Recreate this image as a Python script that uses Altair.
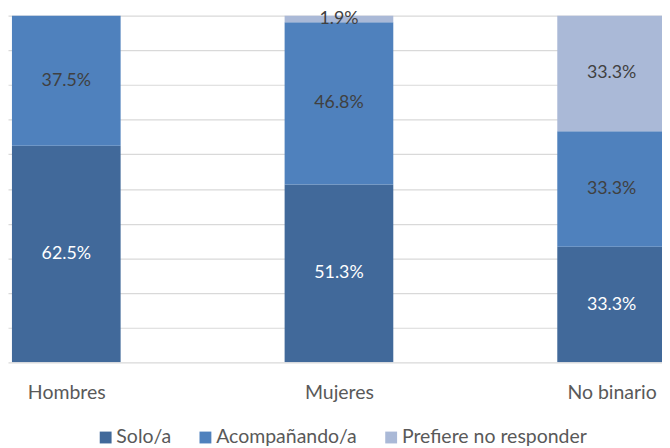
import altair as alt
import pandas as pd

categories = ["Hombres", "Mujeres", "No binario"]
series = ["Solo/a", "Acompañando/a", "Prefiere no responder"]
solo = [62.5, 51.3, 33.3]
acomp = [37.5, 46.8, 33.3]
prefiere = [0.0, 1.9, 33.3]
colors = ["#41699A", "#4F81BD", "#AAB9D7"]
label_colors = ["#FFFFFF", "#404040", "#404040"]

rows = []
for i, c in enumerate(categories):
    for j, (s, vals) in enumerate(zip(series, [solo, acomp, prefiere])):
        v = vals[i]
        if v > 0:
            rows.append({"cat": c, "idx": i, "serie": s, "order": j, "value": v,
                         "label": f"{v:.1f}%", "lc": label_colors[j]})
df = pd.DataFrame(rows)

FONT = "Lato"
names_js = "[" + ",".join(f"'{c}'" for c in categories) + "]"

x = alt.X("idx:Q", title=None,
          scale=alt.Scale(domain=[-0.21377, 2.18478], nice=False, zero=False, padding=0),
          axis=alt.Axis(values=[0, 1, 2], labelExpr=f"{names_js}[datum.value]",
                        domain=False, ticks=False, grid=False, labelPadding=21,
                        labelFontSize=19.7, labelColor="#595959", labelFont=FONT,
                        labelBaseline="top"))

base = alt.Chart(df).transform_stack(
    stack="value", groupby=["cat"], as_=["y0", "y1"],
    sort=[alt.SortField("order", order="ascending")], offset="normalize"
).transform_calculate(ymid="(datum.y0 + datum.y1) / 2")

yscale = alt.Scale(domain=[0, 1], nice=False, padding=0)
yaxis = alt.Axis(labels=False, ticks=False, domain=False, grid=True,
                 values=[i / 10 for i in range(11)],
                 gridColor="#D9D9D9", gridWidth=1.2)

bars = base.mark_bar(size=110, clip=True).encode(
    x=x,
    y=alt.Y("y0:Q", scale=yscale, axis=yaxis, title=None),
    y2="y1:Q",
    color=alt.Color("serie:N", sort=series,
                    scale=alt.Scale(domain=series, range=colors),
                    legend=alt.Legend(title=None, orient="none", direction="horizontal",
                                      legendX=89, legendY=417, symbolType="square",
                                      symbolSize=144, symbolStrokeWidth=0,
                                      labelFontSize=19.7, labelColor="#595959",
                                      labelFont=FONT, columnPadding=24, symbolOffset=0,
                                      labelOffset=1, padding=0, labelLimit=400)),
)

texts = base.mark_text(fontSize=18, font=FONT, baseline="middle").encode(
    x=x,
    y=alt.Y("ymid:Q", scale=yscale, axis=yaxis, title=None),
    text="label:N",
    color=alt.Color("lc:N", scale=None),
)

chart = alt.layer(bars, texts).properties(
    width=662, height=351,
    autosize=alt.AutoSizeParams(type="none"),
    padding={"left": 0, "top": 5, "right": 0, "bottom": 84},
).configure_view(stroke=None)

chart.save("out.html", embed_options={"renderer": "svg", "actions": False})
